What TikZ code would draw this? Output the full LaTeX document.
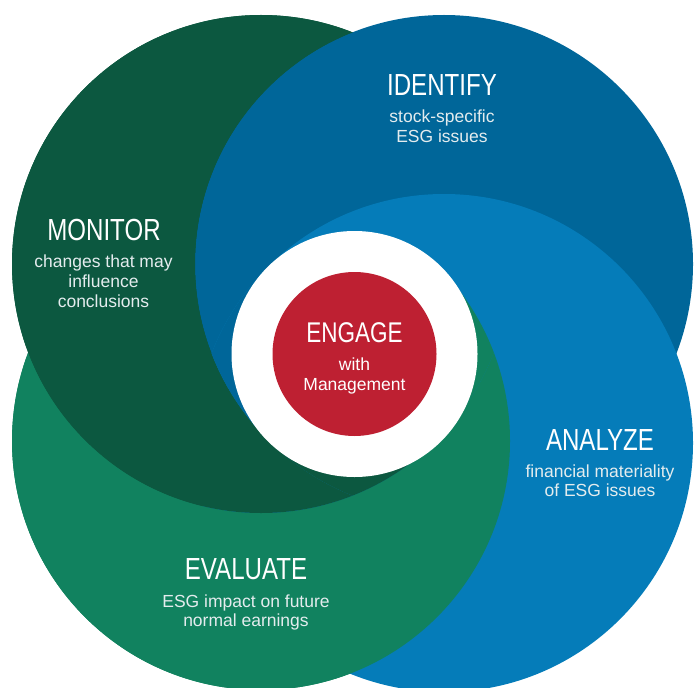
\documentclass[tikz,border=0pt]{standalone}
\usepackage{fontspec}
\setmainfont{Liberation Sans}
\newfontfamily\titlefont[FakeStretch=0.79]{Liberation Sans}
\definecolor{cDG}{RGB}{12,88,64}
\definecolor{cB}{RGB}{0,102,153}
\definecolor{cLB}{RGB}{5,124,185}
\definecolor{cG}{RGB}{17,130,95}
\definecolor{cRed}{RGB}{190,32,50}
\definecolor{cSub}{RGB}{228,236,238}
\begin{document}
\begin{tikzpicture}[x=1pt,y=-1pt,
  ttl/.style={font=\titlefont\fontsize{30.5}{30.5}\selectfont, text=white, inner sep=0pt, anchor=base},
  sub/.style={font=\fontsize{17.5}{17.5}\selectfont, text=cSub, inner sep=0pt, anchor=base}]
\def\rad{249pt}
\clip (0,0) rectangle (695,687);
\coordinate (cdg) at (261,264);
\coordinate (cb)  at (444,264);
\coordinate (clb) at (444,443);
\coordinate (cg)  at (261,441);
\coordinate (cc)  at (354.5,354);
% base layers
\fill[cG]  (cg)  circle[radius=\rad];
\fill[cDG] (cdg) circle[radius=\rad];
\fill[cB]  (cb)  circle[radius=\rad];
\fill[cLB] (clb) circle[radius=\rad];
% green above light blue outside dark green
\begin{scope}[even odd rule]
  \clip (-20,-20) rectangle (715,707) (cdg) circle[radius=\rad];
  \fill[cG] (cg) circle[radius=\rad];
\end{scope}
% dark green above everything outside blue
\begin{scope}[even odd rule]
  \clip (-20,-20) rectangle (715,707) (cb) circle[radius=\rad];
  \fill[cDG] (cdg) circle[radius=\rad];
\end{scope}
% slivers where all four overlap, next to the ring
\begin{scope}
  \clip (cdg) circle[radius=\rad];
  \clip (cb)  circle[radius=\rad];
  \clip (clb) circle[radius=\rad];
  \clip (cg)  circle[radius=\rad];
  \fill[cG]  (430,230) rectangle (530,480);
  \fill[cB]  (170,230) rectangle (280,480);
  \fill[cDG] (280,430) rectangle (430,530);
\end{scope}
% centre
\node[circle, fill=white, minimum size=246pt, inner sep=0pt] (ring) at (cc) {};
\node[circle, fill=cRed, minimum size=164pt, inner sep=0pt] (core) at (cc) {};
% texts
\node[ttl] (mon) at (104,240) {MONITOR};
\node[sub] (mon1) at (103.5,267) {changes that may};
\node[sub] (mon2) at (103.5,287) {influence};
\node[sub] (mon3) at (103.5,307) {conclusions};
\node[ttl] (idf) at (442,96) {IDENTIFY};
\node[sub] (idf1) at (442,123) {stock-specific};
\node[sub] (idf2) at (442,143) {ESG issues};
\node[ttl, font=\titlefont\fontsize{28.5}{28.5}\selectfont] (eng) at (354.5,342) {ENGAGE};
\node[sub, text=white] (eng1) at (354.5,370) {with};
\node[sub, text=white] (eng2) at (354.5,390) {Management};
\node[ttl] (ana) at (600,450) {ANALYZE};
\node[sub] (ana1) at (600,477) {financial materiality};
\node[sub] (ana2) at (600,496) {of ESG issues};
\node[ttl] (eva) at (246,579) {EVALUATE};
\node[sub] (eva1) at (246,607) {ESG impact on future};
\node[sub] (eva2) at (246,626) {normal earnings};
\end{tikzpicture}
\end{document}
